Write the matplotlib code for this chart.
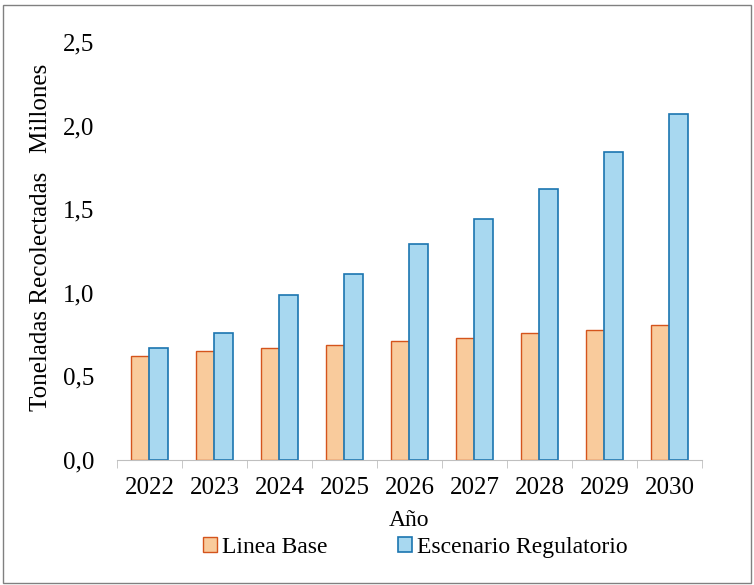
import matplotlib.pyplot as plt
import numpy as np
from matplotlib.patches import Rectangle

# Datos (millones de toneladas)
anios = ['2022', '2023', '2024', '2025', '2026', '2027', '2028', '2029', '2030']
linea_base = [0.62, 0.65, 0.67, 0.69, 0.71, 0.73, 0.76, 0.78, 0.81]
escenario_reg = [0.67, 0.76, 0.99, 1.11, 1.29, 1.44, 1.62, 1.84, 2.07]
yticks = [0.0, 0.5, 1.0, 1.5, 2.0, 2.5]

plt.rcParams['font.family'] = ['Liberation Serif', 'DejaVu Serif']

fig = plt.figure(figsize=(7.54, 5.85), dpi=100)
ax = fig.add_axes([0.155, 0.2137, 0.776, 0.7143])

x = np.arange(len(anios))
w = 0.29
ax.bar(x - w / 2, linea_base, w, color='#f9cb9c', edgecolor='#d4541c', linewidth=1.0,
       label='Linea Base')
ax.bar(x + w / 2, escenario_reg, w, color='#a8d8f0', edgecolor='#1b75b0', linewidth=1.2,
       label='Escenario Regulatorio')

ax.set_xlim(-0.5, len(anios) - 0.5)
ax.set_ylim(0, 2.5)
ax.set_yticks(yticks)
ax.set_yticklabels([f'{v:.1f}'.replace('.', ',') for v in yticks], fontsize=18)
ax.tick_params(axis='y', length=0, pad=16)

# ticks del eje x entre categorias
ax.set_xticks(x)
ax.set_xticklabels(anios, fontsize=18)
ax.set_xticks(np.arange(-0.5, len(anios), 1), minor=True)
ax.tick_params(axis='x', which='major', length=0, pad=12)
ax.tick_params(axis='x', which='minor', length=6, color='#bfbfbf')

for s in ['top', 'right', 'left']:
    ax.spines[s].set_visible(False)
ax.spines['bottom'].set_color('#bfbfbf')

ax.set_xlabel('Año', fontsize=17)
ax.xaxis.set_label_coords(0.5, -0.12)
fig.text(0.055, 0.595, 'Toneladas Recolectadas   Millones', rotation=90,
         ha='center', va='center', fontsize=18)

ax.legend(loc='center', bbox_to_anchor=(0.51, -0.21), ncol=2, frameon=False,
          fontsize=17, handlelength=0.6, handleheight=0.6, handletextpad=0.2,
          columnspacing=3.0, borderpad=0)

# marco exterior
fig.patches.append(Rectangle((0.004, 0.004), 0.992, 0.988, transform=fig.transFigure,
                             fill=False, edgecolor='#808080', linewidth=1.0))

fig.savefig('out.png', dpi=100)
